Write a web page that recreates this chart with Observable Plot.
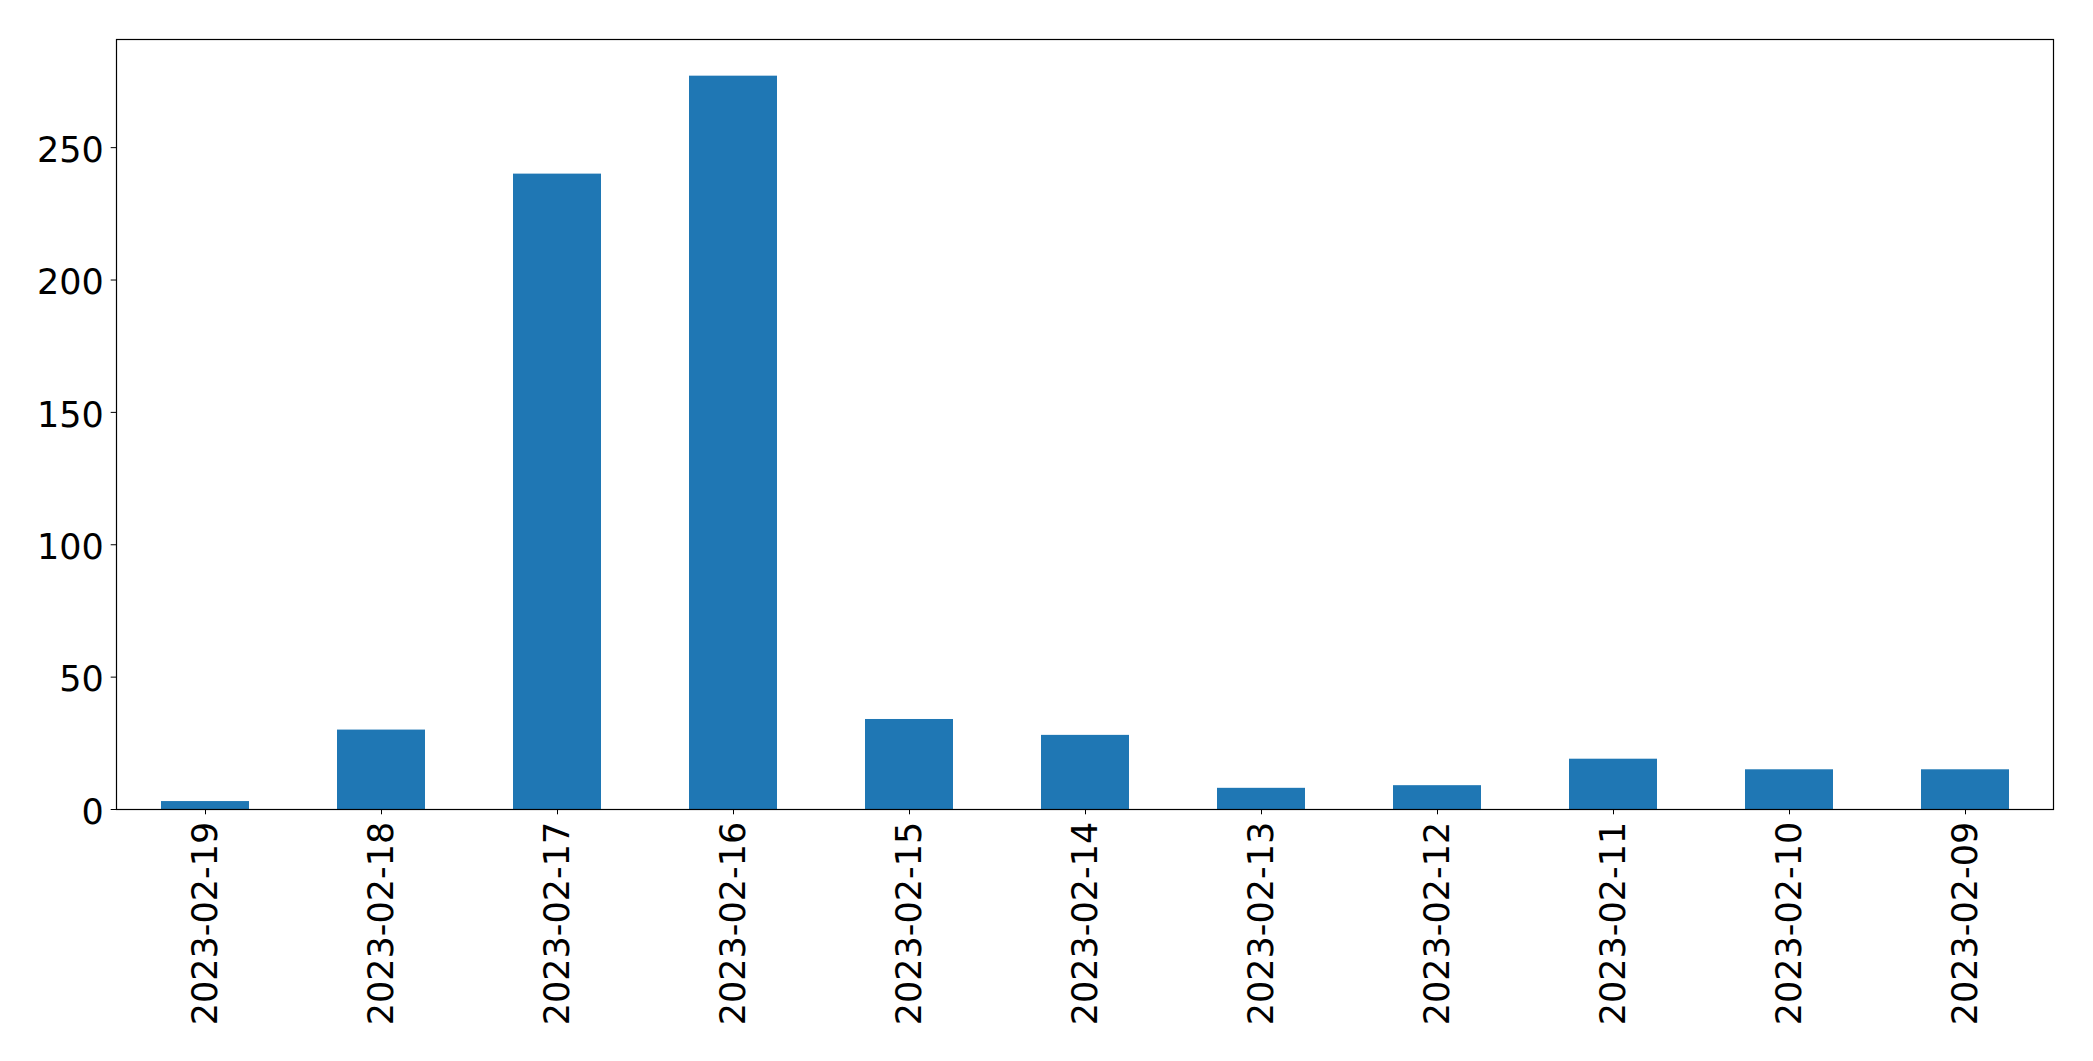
<!DOCTYPE html>
<html>
<head>
<meta charset="utf-8">
<script src="https://cdn.jsdelivr.net/npm/d3@7"></script>
<script src="https://cdn.jsdelivr.net/npm/@observablehq/plot@0.6"></script>
<style>
  html, body { margin: 0; padding: 0; background: white; overflow: hidden; }
  #chart svg { display: block; }
</style>
</head>
<body>
<div id="chart"></div>
<script>
const dates = ["2023-02-19", "2023-02-18", "2023-02-17", "2023-02-16", "2023-02-15", "2023-02-14", "2023-02-13", "2023-02-12", "2023-02-11", "2023-02-10", "2023-02-09"];
const counts = [3, 30, 240, 277, 34, 28, 8, 9, 19, 15, 15];
const yTicks = [0, 50, 100, 150, 200, 250];

const data = dates.map((d, i) => ({date: d, count: counts[i]}));
const yMax = d3.max(counts) * 1.05;

const chart = Plot.plot({
  width: 2093,
  height: 1061,
  marginLeft: 116,
  marginRight: 40,
  marginTop: 39,
  marginBottom: 252,
  style: {fontFamily: "'DejaVu Sans', sans-serif", fontSize: "35px", color: "black", background: "white"},
  x: {domain: dates, type: "band", paddingInner: 0.5, paddingOuter: 0.25, label: null},
  y: {domain: [0, yMax], label: null},
  marks: [
    Plot.barY(data, {x: "date", y: "count", fill: "#1f77b4"}),
    Plot.frame({stroke: "black", strokeWidth: 1.2}),
    Plot.axisY({ticks: yTicks, tickSize: 5.3, text: null, label: null, stroke: "black"}),
    Plot.axisY({ticks: yTicks, tickSize: 0, tickPadding: 12.8, fontSize: 35, label: null, fill: "black", dy: 3}),
    Plot.axisX({tickRotate: -90, tickSize: 5.3, tickPadding: 7, fontSize: 35, label: null, stroke: "black", fill: "black"})
  ]
});
document.getElementById("chart").appendChild(chart);
</script>
</body>
</html>
